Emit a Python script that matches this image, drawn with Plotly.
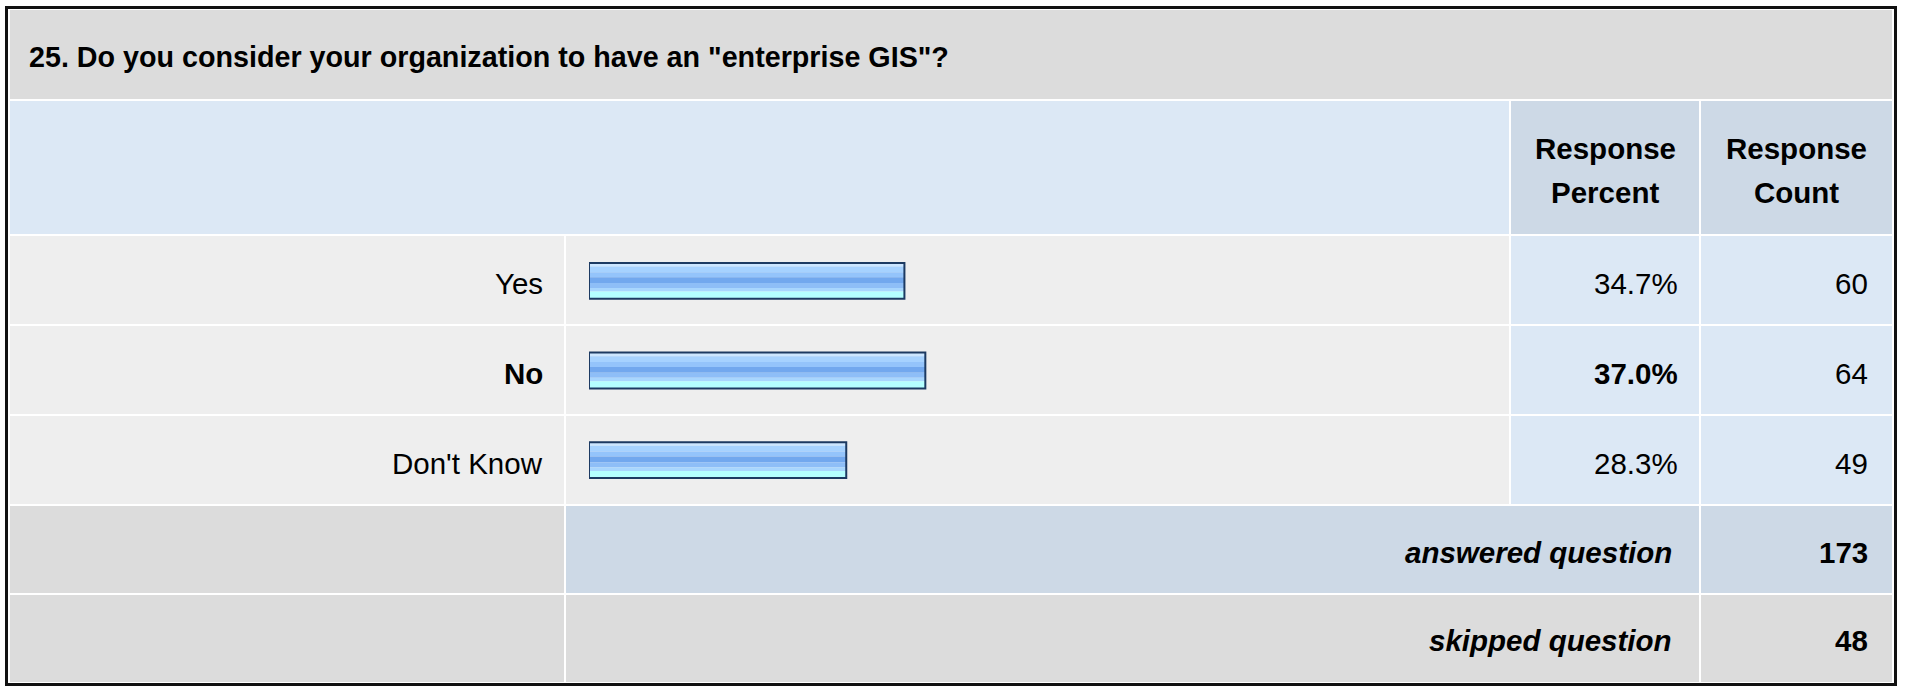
import plotly.graph_objects as go

# ---------------- data ----------------
question = '25. Do you consider your organization to have an "enterprise GIS"?'
answers = ["Yes", "No", "Don't Know"]
percents = [34.7, 37.0, 28.3]
counts = [60, 64, 49]
bold_row = [False, True, False]
answered_count = 173
skipped_count = 48
header_percent = ["Response", "Percent"]
header_count = ["Response", "Count"]

# ---------------- geometry / style ----------------
W, H = 1907, 687
FONT = "Liberation Sans, Arial, Helvetica, sans-serif"
FS = 29.5


def fx(x):
    return x / W


def fy(y):
    return 1 - y / H


GRAY_T = "#dcdcdc"
BLUE_L = "#dce8f5"
BLUE_D = "#cdd9e6"
GRAY_L = "#eeeeee"

shapes = []


def cell(x0, y0, x1, y1, color):
    shapes.append(dict(type="rect", xref="paper", yref="paper",
                       x0=fx(x0), x1=fx(x1), y0=fy(y1), y1=fy(y0),
                       fillcolor=color, line=dict(width=0), layer="below"))


# white table background
cell(6, 7, 1896, 685, "#ffffff")
# columns
C_L0, C_L1 = 10, 564
C_B0, C_B1 = 566, 1509
C_P0, C_P1 = 1511, 1699
C_C0, C_C1 = 1701, 1892
# rows
R_T = (10, 99)
R_H = (101, 234)
R_D = [(236, 324), (326, 414), (416, 504)]
R_A = (506, 593)
R_S = (595, 682)

cell(C_L0, R_T[0], C_C1, R_T[1], GRAY_T)
cell(C_L0, R_H[0], C_B1, R_H[1], BLUE_L)
cell(C_P0, R_H[0], C_P1, R_H[1], BLUE_D)
cell(C_C0, R_H[0], C_C1, R_H[1], BLUE_D)
for (a, b) in R_D:
    cell(C_L0, a, C_L1, b, GRAY_L)
    cell(C_B0, a, C_B1, b, GRAY_L)
    cell(C_P0, a, C_P1, b, BLUE_L)
    cell(C_C0, a, C_C1, b, BLUE_L)
cell(C_L0, R_A[0], C_L1, R_A[1], GRAY_T)
cell(C_B0, R_A[0], C_P1, R_A[1], BLUE_D)
cell(C_C0, R_A[0], C_C1, R_A[1], BLUE_D)
cell(C_L0, R_S[0], C_L1, R_S[1], GRAY_T)
cell(C_B0, R_S[0], C_P1, R_S[1], GRAY_T)
cell(C_C0, R_S[0], C_C1, R_S[1], GRAY_T)

# outer border
shapes.append(dict(type="rect", xref="paper", yref="paper",
                   x0=fx(6.5), x1=fx(1895.5), y0=fy(684.5), y1=fy(7.5),
                   fillcolor="rgba(0,0,0,0)", line=dict(color="#111111", width=3),
                   layer="above"))

annotations = []


def text(x, y, s, anchor="right", size=FS):
    annotations.append(dict(xref="paper", yref="paper", x=fx(x), y=fy(y),
                            text=s, showarrow=False, xanchor=anchor,
                            yanchor="middle", borderpad=0,
                            font=dict(family=FONT, size=size, color="#000000")))


text(28, 57, "<b>" + question + "</b>", anchor="left", size=28.7)
text(1605, 148, "<b>" + header_percent[0] + "</b>", anchor="center")
text(1605, 192, "<b>" + header_percent[1] + "</b>", anchor="center")
text(1796, 148, "<b>" + header_count[0] + "</b>", anchor="center")
text(1796, 192, "<b>" + header_count[1] + "</b>", anchor="center")

for i, (a, b) in enumerate(R_D):
    yc = (a + b) / 2 + 3
    lab = answers[i]
    pct = f"{percents[i]:.1f}%"
    if bold_row[i]:
        lab = "<b>" + lab + "</b>"
        pct = "<b>" + pct + "</b>"
    text(544, yc, lab)
    text(1679, yc, pct)
    text(1869, yc, str(counts[i]))

yc = (R_A[0] + R_A[1]) / 2 + 3
text(1673, yc, "<b><i>answered question</i></b>")
text(1869, yc, f"<b>{answered_count}</b>")
yc = (R_S[0] + R_S[1]) / 2 + 2
text(1673, yc, "<b><i>skipped question</i></b>")
text(1869, yc, f"<b>{skipped_count}</b>")

# ---------------- bars ----------------
pos = list(range(len(answers)))
BAR_H = 0.4
bands = [  # (start fraction, end fraction, colour) top -> bottom
    (0.00, 0.10, "#cce6ff"),
    (0.10, 0.26, "#a6d2ff"),
    (0.26, 0.40, "#94c4fb"),
    (0.40, 0.56, "#72a8ee"),
    (0.56, 0.70, "#8ebef7"),
    (0.70, 0.80, "#a8d6fe"),
    (0.80, 1.00, "#b4ffff"),
]

fig = go.Figure()
for f0, f1, c in bands:
    fig.add_trace(go.Bar(
        y=pos, x=percents, orientation="h",
        width=[(f1 - f0) * BAR_H] * len(pos),
        offset=[-BAR_H / 2 + f0 * BAR_H] * len(pos),
        marker=dict(color=c, line=dict(width=0)),
        hoverinfo="skip", showlegend=False,
    ))
fig.add_trace(go.Bar(
    y=pos, x=percents, orientation="h",
    width=[BAR_H] * len(pos),
    offset=[-BAR_H / 2] * len(pos),
    marker=dict(color="rgba(0,0,0,0)", line=dict(width=2, color="#1c3a62")),
    hoverinfo="skip", showlegend=False,
))

fig.update_layout(
    width=W, height=H,
    margin=dict(l=0, r=0, t=0, b=0),
    paper_bgcolor="#ffffff", plot_bgcolor="rgba(0,0,0,0)",
    barmode="overlay",
    shapes=shapes, annotations=annotations,
    xaxis=dict(domain=[fx(589), fx(1498)], range=[0, 100], visible=False,
               fixedrange=True),
    yaxis=dict(domain=[fy(505), fy(236)], range=[2.5, -0.5], visible=False,
               fixedrange=True),
)

fig.write_html(
    "out.html",
    config={"displayModeBar": False},
    post_script="document.body.style.margin='0';document.body.style.overflow='hidden';",
)
